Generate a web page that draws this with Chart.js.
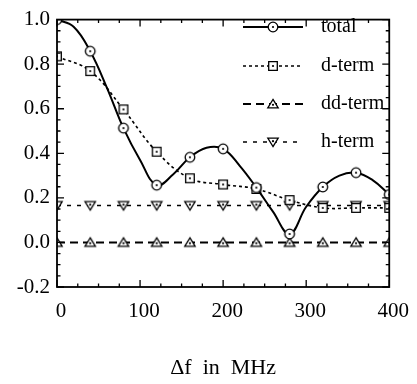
<!DOCTYPE html>
<html>
<head>
<meta charset="utf-8">
<script src="https://cdn.jsdelivr.net/npm/chart.js@4.4.1/dist/chart.umd.min.js"></script>
<style>
  html, body { margin: 0; padding: 0; background: #fff; }
  #wrap { width: 417px; height: 384px; position: relative; }
</style>
</head>
<body>
<div id="wrap"><canvas id="c" width="417" height="384"></canvas></div>
<script>
// ---- data ----
// total curve, read every 20 MHz (markers only every 40 MHz)
const totalFreqMHz = [0, 20, 40, 60, 80, 100, 120, 140, 160, 180, 200, 220, 240, 260, 280, 300, 320, 340, 360, 380, 400];
const totalVals = [1.0, 0.968, 0.858, 0.695, 0.513, 0.37, 0.257, 0.306, 0.382, 0.425, 0.42, 0.344, 0.246, 0.138, 0.038, 0.16, 0.249, 0.30, 0.313, 0.28, 0.215];
const freqMHz = [0, 40, 80, 120, 160, 200, 240, 280, 320, 360, 400];
const dTermVals = [0.835, 0.769, 0.597, 0.407, 0.288, 0.26, 0.24, 0.19, 0.155, 0.155, 0.155];
const ddTermVals = [0, 0, 0, 0, 0, 0, 0, 0, 0, 0, 0];
const hTermVals = [0.166, 0.166, 0.166, 0.166, 0.166, 0.166, 0.166, 0.166, 0.166, 0.166, 0.166];
const seriesLabels = ['total', 'd-term', 'dd-term', 'h-term'];
const yTickValues = [-0.2, 0.0, 0.2, 0.4, 0.6, 0.8, 1.0];
const xTickValues = [0, 100, 200, 300, 400];
const axisTitle = 'Δf  in  MHz';

const FONT = "'Liberation Serif', 'Times New Roman', serif";

function marker(shape) {
  const s = 14;
  const c = document.createElement('canvas');
  c.width = s; c.height = s;
  const g = c.getContext('2d');
  g.fillStyle = '#fff'; g.strokeStyle = '#000'; g.lineWidth = 1.3;
  g.beginPath();
  const m = s / 2;
  if (shape === 'circle') {
    g.arc(m, m, 4.8, 0, Math.PI * 2);
  } else if (shape === 'square') {
    g.rect(m - 4.3, m - 4.3, 8.6, 8.6);
  } else if (shape === 'tri') {
    g.moveTo(m, m - 4.6); g.lineTo(m + 5.2, m + 3.9); g.lineTo(m - 5.2, m + 3.9); g.closePath();
  } else {
    g.moveTo(m, m + 4.6); g.lineTo(m + 5.2, m - 3.9); g.lineTo(m - 5.2, m - 3.9); g.closePath();
  }
  g.fill(); g.stroke();
  g.fillStyle = '#000';
  g.beginPath(); g.arc(m, shape === 'tri' ? m + 0.8 : (shape === 'itri' ? m - 0.8 : m), 1.1, 0, Math.PI * 2); g.fill();
  return c;
}

const mk = { total: marker('circle'), d: marker('square'), dd: marker('tri'), h: marker('itri') };

function pts(xs, vals) { return xs.map((x, i) => ({ x: x, y: vals[i] })); }

const datasets = [
  { label: seriesLabels[0], data: pts(totalFreqMHz, totalVals), borderColor: '#000', borderWidth: 2, tension: 0.4,
    pointStyle: mk.total, borderDash: [], order: 1,
    pointRadius: totalFreqMHz.map(f => (f % 40 === 0 ? 5 : 0)) },
  { label: seriesLabels[1], data: pts(freqMHz, dTermVals), borderColor: '#000', borderWidth: 1.6, tension: 0.4,
    pointStyle: mk.d, borderDash: [3, 3], order: 2 },
  { label: seriesLabels[2], data: pts(freqMHz, ddTermVals), borderColor: '#000', borderWidth: 2, tension: 0,
    pointStyle: mk.dd, borderDash: [8, 5], order: 3 },
  { label: seriesLabels[3], data: pts(freqMHz, hTermVals), borderColor: '#000', borderWidth: 1.6, tension: 0,
    pointStyle: mk.h, borderDash: [4, 6], order: 4 }
];
datasets.forEach(d => { d.fill = false; d.clip = 0; if (d.pointRadius === undefined) d.pointRadius = 5; d.backgroundColor = '#fff'; });

const frameAndTicks = {
  id: 'frameAndTicks',
  afterDatasetsDraw(chart) {
    const { ctx, chartArea: a, scales: { x, y } } = chart;
    ctx.save();
    ctx.strokeStyle = '#000';
    ctx.lineWidth = 1.8;
    ctx.strokeRect(a.left, a.top, a.right - a.left, a.bottom - a.top);
    ctx.lineWidth = 1.3;
    ctx.beginPath();
    for (let v = y.min; v <= y.max + 1e-9; v += 0.05) {
      const py = y.getPixelForValue(v);
      const major = Math.abs(Math.round(v / 0.2) * 0.2 - v) < 1e-6;
      const L = major ? 7 : 3.5;
      ctx.moveTo(a.left, py); ctx.lineTo(a.left + L, py);
      ctx.moveTo(a.right, py); ctx.lineTo(a.right - L, py);
    }
    for (let v = x.min; v <= x.max + 1e-9; v += 25) {
      const px = x.getPixelForValue(v);
      const major = v % 100 === 0;
      const L = major ? 7 : 3.5;
      ctx.moveTo(px, a.bottom); ctx.lineTo(px, a.bottom - L);
      ctx.moveTo(px, a.top); ctx.lineTo(px, a.top + L);
    }
    ctx.stroke();

    // legend: line sample with marker + label
    const rowY = [27, 66, 104, 142];
    const x0 = 243, x1 = 303, tx = 321;
    chart.data.datasets.forEach((ds, i) => {
      const yy = rowY[i];
      ctx.save();
      ctx.lineWidth = ds.borderWidth;
      ctx.setLineDash(ds.borderDash);
      ctx.beginPath(); ctx.moveTo(x0, yy); ctx.lineTo(x1, yy); ctx.stroke();
      ctx.restore();
      const img = ds.pointStyle;
      ctx.drawImage(img, (x0 + x1) / 2 - img.width / 2, yy - img.height / 2);
      ctx.fillStyle = '#000';
      ctx.font = '20px ' + FONT;
      ctx.textAlign = 'left';
      ctx.textBaseline = 'middle';
      ctx.fillText(ds.label, tx, yy);
    });
    ctx.restore();
  }
};

new Chart(document.getElementById('c'), {
  type: 'line',
  data: { datasets },
  options: {
    responsive: false,
    animation: false,
    devicePixelRatio: 1,
    layout: { padding: { left: 0, top: 13, right: 24, bottom: 0 } },
    plugins: { legend: { display: false }, tooltip: { enabled: false } },
    scales: {
      x: {
        type: 'linear', min: 0, max: 400,
        afterFit(s) { s.height = 97; },
        afterBuildTicks(s) { s.ticks = xTickValues.map(v => ({ value: v })); },
        grid: { display: false, drawTicks: false },
        border: { display: false },
        ticks: { color: '#000', padding: 12, labelOffset: 4, font: { family: FONT, size: 21 }, maxRotation: 0,
          callback: v => String(v) },
        title: { display: true, text: axisTitle, color: '#000', font: { family: FONT, size: 22 },
          padding: { top: 0, bottom: 3 } }
      },
      y: {
        type: 'linear', min: -0.2, max: 1.0,
        afterFit(s) { s.width = 57; },
        afterBuildTicks(s) { s.ticks = yTickValues.map(v => ({ value: v })); },
        grid: { display: false, drawTicks: false },
        border: { display: false },
        ticks: { color: '#000', padding: 7, font: { family: FONT, size: 21 },
          callback: v => v.toFixed(1) }
      }
    }
  },
  plugins: [frameAndTicks]
});
</script>
</body>
</html>
